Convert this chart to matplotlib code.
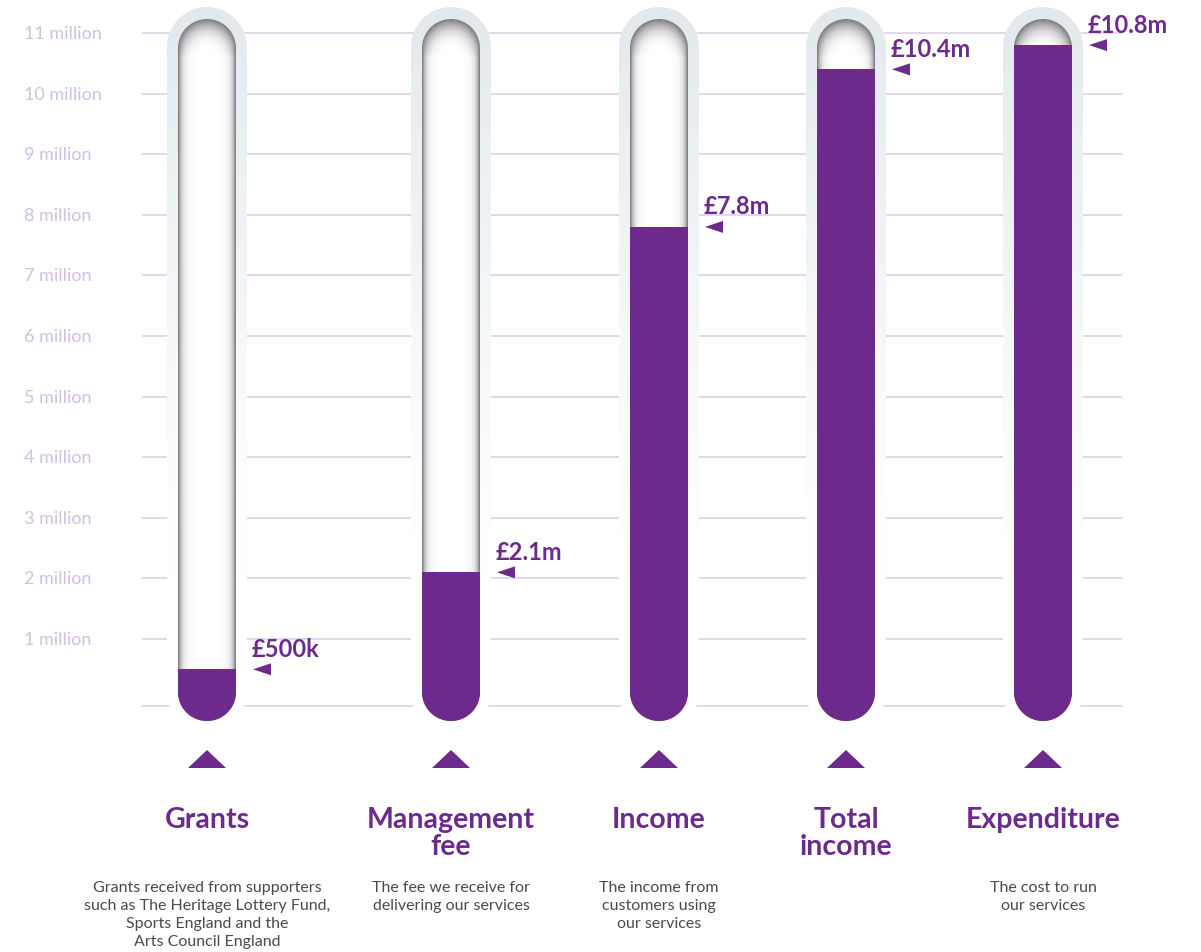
import numpy as np
import matplotlib.pyplot as plt
from matplotlib.path import Path
from matplotlib.patches import PathPatch, Polygon

plt.rcParams['font.family'] = ['Lato', 'DejaVu Sans']

# ---- data (values in £ millions) ----
categories = ['Grants', 'Management\nfee', 'Income', 'Total\nincome', 'Expenditure']
values = [0.5, 2.1, 7.8, 10.4, 10.8]
value_labels = ['£500k', '£2.1m', '£7.8m', '£10.4m', '£10.8m']
descriptions = [
    'Grants received from supporters\nsuch as The Heritage Lottery Fund,\nSports England and the\nArts Council England',
    'The fee we receive for\ndelivering our services',
    'The income from\ncustomers using\nour services',
    '',
    'The cost to run\nour services',
]
tick_values = list(range(1, 12))
tick_labels = [f'{t} million' for t in tick_values]

# ---- style ----
PURPLE = '#6c2a8c'
GRID = '#e2d3ea'
TICK = '#d3bfe0'
GREY_TEXT = '#4a4a4a'

W, H = 1201, 953
Y_BOT, Y_TOP = -4.165, 11.561
fig = plt.figure(figsize=(W / 100, H / 100), dpi=100)
ax = fig.add_axes([0, 0, 1, 1])
k = H / (Y_TOP - Y_BOT)          # pixels per million


def px2y(p):
    # pixel row (from top) -> data units
    return Y_TOP - p / k


def capsule(xc, half, y0, y1, n=60):
    ry = half / k
    t = np.linspace(0, np.pi, n)
    top = np.column_stack([xc + half * np.cos(t), y1 - ry + ry * np.sin(t)])
    bot = np.column_stack([xc - half * np.cos(t), y0 + ry - ry * np.sin(t)])
    return Path(np.vstack([top, bot, top[:1]]), closed=True)


xs = [207, 451, 659, 846, 1043]
OUT_HALF, IN_HALF = 40, 29
out_top, out_bot = px2y(8), px2y(733)
in_top, in_bot = px2y(20), px2y(722)

# grid + tick labels
ax.hlines(tick_values + [px2y(707)], 142, 1122, color=GRID, lw=1.3, zorder=1)
for t, lab in zip(tick_values, tick_labels):
    ax.text(24, t, lab, ha='left', va='center', fontsize=13, color=TICK)

for xc, v, vl, cat, desc in zip(xs, values, value_labels, categories, descriptions):
    # outer ring: white base with a grey-blue wash fading downwards
    outer = PathPatch(capsule(xc, OUT_HALF, out_bot, out_top), facecolor='white',
                      edgecolor='none', zorder=2)
    ax.add_patch(outer)
    ny = 200
    wash = np.zeros((ny, 1, 4))
    wash[..., 0], wash[..., 1], wash[..., 2] = 0.89, 0.915, 0.93
    fade = np.clip(np.linspace(1, -0.25, ny), 0, 1) ** 1.3
    wash[:, 0, 3] = fade
    im = ax.imshow(wash, extent=(xc - OUT_HALF, xc + OUT_HALF, out_bot, out_top),
                   aspect='auto', zorder=3, interpolation='bilinear')
    im.set_clip_path(outer)

    # inner glass
    inner = PathPatch(capsule(xc, IN_HALF, in_bot, in_top), facecolor='white',
                      edgecolor='none', zorder=4)
    ax.add_patch(inner)
    hpx = int(round((in_top - in_bot) * k))
    gx = np.linspace(-IN_HALF, IN_HALF, 2 * IN_HALF + 1)
    gy = np.arange(hpx)
    X, Y = np.meshgrid(gx, gy)
    yc = np.clip(Y, IN_HALF, hpx - IN_HALF)
    dseg = np.hypot(X, Y - yc)
    d = np.clip(IN_HALF - dseg, 0, None)
    w = 3.5 + 9 * np.clip(1 - Y / (IN_HALF * 1.3), 0, 1)
    shade = np.zeros(X.shape + (4,))
    shade[..., 0], shade[..., 1], shade[..., 2] = 0.38, 0.37, 0.40
    shade[..., 3] = 0.8 * np.exp(-d / w)
    im2 = ax.imshow(shade, extent=(xc - IN_HALF, xc + IN_HALF, in_bot, in_top),
                    aspect='auto', zorder=5, interpolation='bilinear')
    im2.set_clip_path(inner)

    # purple level
    bars = ax.bar(xc, v - in_bot, bottom=in_bot, width=2 * IN_HALF, color=PURPLE,
                  zorder=6, linewidth=0)
    for b in bars:
        b.set_clip_path(inner)

    # value marker and label
    ax.add_patch(Polygon([(xc + 46, v), (xc + 64, v + 6 / k), (xc + 64, v - 6 / k)],
                         closed=True, facecolor=PURPLE, edgecolor='none', zorder=7))
    ax.text(xc + 45, v + 21 / k, vl, ha='left', va='center', fontsize=17,
            fontweight='bold', color=PURPLE, zorder=7)

    # pointer under the tube
    ax.add_patch(Polygon([(xc - 19, px2y(769)), (xc + 19, px2y(769)), (xc, px2y(751))],
                         closed=True, facecolor=PURPLE, edgecolor='none', zorder=7))

    ax.text(xc, px2y(807), cat, ha='center', va='top', fontsize=20.5,
            fontweight='bold', color=PURPLE, linespacing=1.03)
    if desc:
        ax.text(xc, px2y(881), desc, ha='center', va='top', fontsize=11.5,
                color=GREY_TEXT, linespacing=1.36)

ax.set_xlim(0, W)
ax.set_ylim(Y_BOT, Y_TOP)
ax.axis('off')
fig.savefig('out.png', dpi=100, facecolor='white')
